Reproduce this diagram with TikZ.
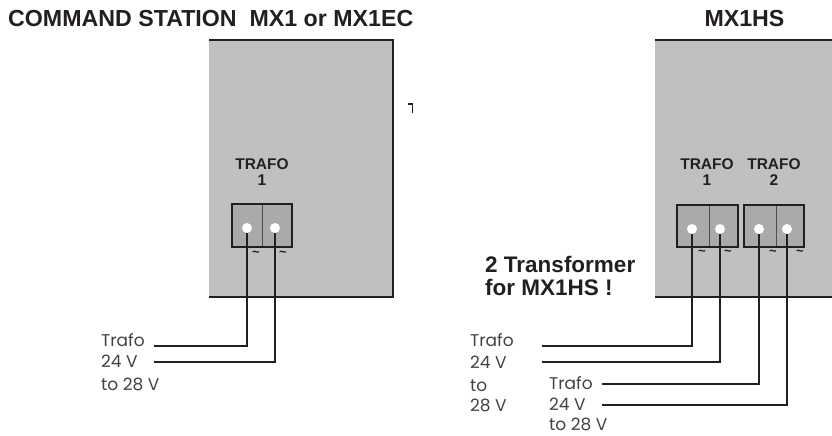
\documentclass[tikz,border=0pt]{standalone}
\usepackage{fontspec}
\setmainfont{Liberation Sans}
\newfontfamily\lblfont{Poppins}
\definecolor{boxgray}{RGB}{192,192,192}
\definecolor{termgray}{RGB}{170,170,170}
\definecolor{ink}{RGB}{35,31,32}
\begin{document}
\begin{tikzpicture}[x=1pt,y=-1pt,
  edge/.style={draw=ink,line width=2pt},
  wire/.style={draw=ink,line width=2pt},
  blockborder/.style={draw=ink,line width=2.4pt,fill=termgray},
  divider/.style={draw=ink!80,line width=0.8pt},
  term/.style={circle,fill=white,inner sep=0pt,minimum size=10pt},
  tilde/.style={font=\bfseries\fontsize{13}{13}\selectfont,text=ink,inner sep=0pt},
  title/.style={font=\bfseries\fontsize{23.2}{23.2}\selectfont,text=ink,inner sep=0pt},
  trafolbl/.style={font=\bfseries\fontsize{15.5}{15.5}\selectfont,text=ink,inner sep=0pt},
  note/.style={font=\bfseries\fontsize{22.5}{22.5}\selectfont,text=ink,inner sep=0pt},
  lbl/.style={font=\lblfont\fontsize{17}{17}\selectfont,text=ink!85,inner sep=0pt,anchor=base west}
]
\useasboundingbox (0,0) rectangle (832,436);
% titles
\node[title,anchor=base west] (t1) at (8,27) {COMMAND STATION\ \ MX1 or MX1EC};
\node[title,anchor=base] (t2) at (744.5,27) {MX1HS};
% left box
\fill[boxgray] (209,40) rectangle (393,297);
\draw[edge] (209,40) -- (393,40) -- (393,297) -- (209,297);
% right box
\fill[boxgray] (655,40) rectangle (832,297);
\draw[edge] (655,40) -- (832,40);
\draw[edge] (655,297) -- (832,297);
% small mark
\draw[ink,line width=1.2pt] (408,104) -- (412.5,104) -- (412.5,113);
% TRAFO labels
\node[trafolbl,anchor=base] (tr0) at (262,169) {TRAFO};
\node[trafolbl,anchor=base] (tr0n) at (262,185) {1};
\node[trafolbl,anchor=base] (tr1) at (707,169) {TRAFO};
\node[trafolbl,anchor=base] (tr1n) at (707,185) {1};
\node[trafolbl,anchor=base] (tr2) at (774,169) {TRAFO};
\node[trafolbl,anchor=base] (tr2n) at (774,185) {2};
% terminal blocks
\draw[blockborder] (232,204) rectangle (292,247);
\draw[divider] (262.5,205) -- (262.5,246);
\draw[blockborder] (677,205) rectangle (738,247);
\draw[divider] (709,206) -- (709,246);
\draw[blockborder] (744,205) rectangle (804,247);
\draw[divider] (776,206) -- (776,246);
% terminals
\node[term] (a1) at (247,228) {};
\node[term] (a2) at (275,228) {};
\node[term] (b1) at (692,229) {};
\node[term] (b2) at (720,229) {};
\node[term] (b3) at (759,229) {};
\node[term] (b4) at (787,229) {};
% tildes
\node[tilde] (sa1) at (256,254) {\textasciitilde};
\node[tilde] (sa2) at (283,254) {\textasciitilde};
\node[tilde] (sb1) at (702,253) {\textasciitilde};
\node[tilde] (sb2) at (728,253) {\textasciitilde};
\node[tilde] (sb3) at (773,253) {\textasciitilde};
\node[tilde] (sb4) at (800,253) {\textasciitilde};
% wire ends
\coordinate (ea1) at (154,346);
\coordinate (ea2) at (154,362);
\coordinate (eb1) at (542,346);
\coordinate (eb2) at (542,362);
\coordinate (eb3) at (602,384);
\coordinate (eb4) at (602,405);
\draw[wire] (a1) |- (ea1);
\draw[wire] (a2) |- (ea2);
\draw[wire] (b1) |- (eb1);
\draw[wire] (b2) |- (eb2);
\draw[wire] (b3) |- (eb3);
\draw[wire] (b4) |- (eb4);
% note
\node[note,anchor=base west] (n1) at (485,272) {2 Transformer};
\node[note,anchor=base west] (n2) at (485,295) {for MX1HS !};
% labels
\node[lbl] (la1) at (101,346) {Trafo};
\node[lbl] (la2) at (101,367) {24 V};
\node[lbl] (la3) at (101,390) {to 28 V};
\node[lbl] (lb1) at (470,346) {Trafo};
\node[lbl] (lb2) at (470,368) {24 V};
\node[lbl] (lb3) at (470,391) {to};
\node[lbl] (lb4) at (470,411) {28 V};
\node[lbl] (lc1) at (549,389) {Trafo};
\node[lbl] (lc2) at (549,410) {24 V};
\node[lbl] (lc3) at (549,430) {to 28 V};
\end{tikzpicture}
\end{document}
